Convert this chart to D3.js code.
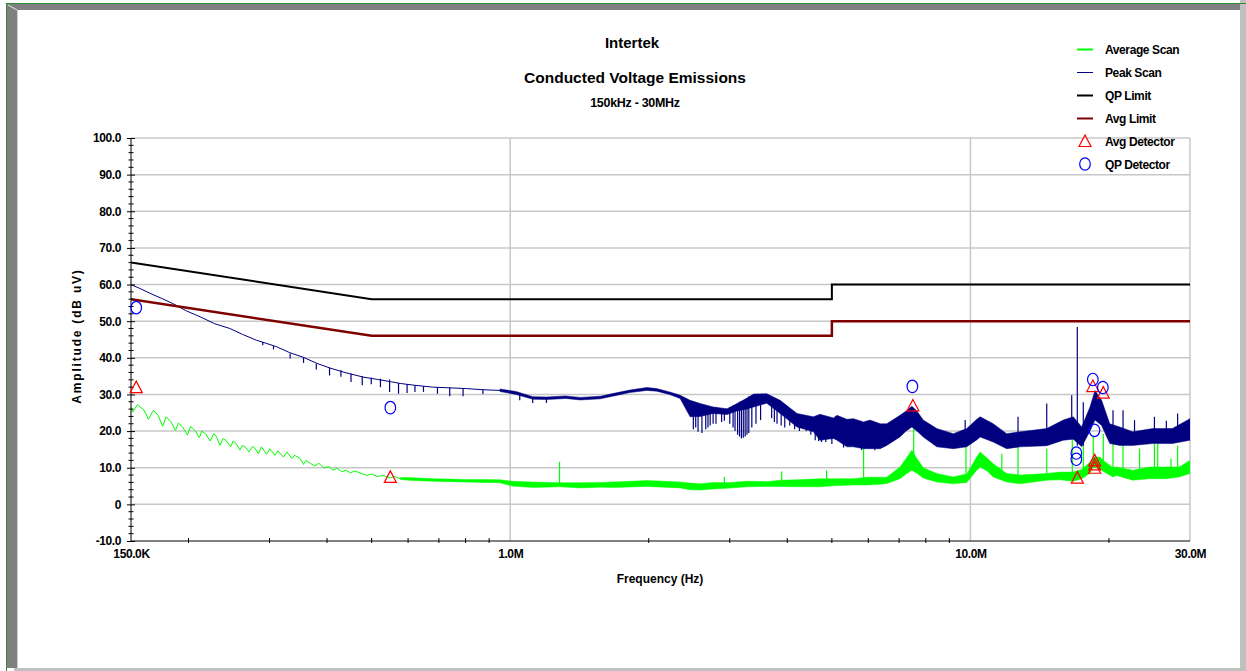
<!DOCTYPE html>
<html>
<head>
<meta charset="utf-8">
<script src="https://d3js.org/d3.v7.min.js"></script>
<style>
  body { margin: 0; background: #fff; }
  svg text { font-family: "Liberation Sans", Arial, sans-serif; font-weight: bold; fill: #000; }
</style>
</head>
<body>
<svg id="chart" width="1246" height="671"></svg>
<script>
// frequency in MHz, level in dBuV
let qpLimit = [[0.15, 66], [0.5, 56], [5, 56], [5, 60], [30, 60]];
let avgLimit = [[0.15, 56], [0.5, 46], [5, 46], [5, 50], [30, 50]];

// peak scan: thin trace below 1 MHz, then a dense noisy band (top / bottom edges)
let peakLine = [[0.150,60.0],[0.157,58.9],[0.165,57.6],[0.175,56.2],[0.185,54.8],[0.198,52.8],[0.212,51.2],[0.228,49.3],
  [0.246,48.0],[0.262,46.4],[0.281,44.8],[0.296,43.9],[0.311,43.0],[0.332,41.4],[0.356,40.1],[0.380,38.5],[0.406,37.2],
  [0.440,35.9],[0.481,34.7],[0.515,34.1],[0.549,33.5],[0.577,33.0],[0.620,32.5],[0.679,32.0],[0.740,31.8],[0.803,31.6],
  [0.870,31.3],[0.950,31.1]];
let peakBandF  = [0.95,1.03,1.12,1.20,1.32,1.42,1.57,1.68,1.82,1.98,2.08,2.22,2.34,2.46,2.59,2.76,2.96,3.11,3.27,3.38,3.61,3.86,
  4.20,4.56,4.71,5.04,5.13,5.39,5.57,5.86,6.05,6.37,6.58,7.03,7.25,7.46,7.65,7.90,8.45,9.18,9.82,10.32,10.50,11.21,11.99,12.82,
  14.65,15.91,16.73,17.45,18.19,18.65,19.28,20.08,21.11,22.54,24.87,27.46,30.0];
let peakBandHi = [31.5,30.8,29.4,29.3,29.6,29.2,29.5,30.3,31.2,31.9,31.6,30.7,29.8,28.4,27.5,26.6,26.1,27.5,29.0,30.1,30.2,28.4,
  24.8,23.9,24.6,23.6,24.3,23.2,23.4,22.5,23.0,22.0,22.0,24.3,25.5,26.8,25.5,23.0,20.7,19.3,20.7,23.2,23.9,22.0,19.3,19.8,
  20.7,23.0,23.9,21.1,26.6,31.1,28.4,22.0,21.1,19.8,20.7,20.7,23.4];
let peakBandLo = [30.8,30.0,28.7,28.6,28.9,28.5,28.8,29.6,30.5,31.1,30.9,30.0,28.9,23.9,24.0,24.8,24.5,25.5,26.0,26.6,27.6,24.8,
  21.1,19.8,17.5,18.0,17.5,15.7,15.7,15.2,15.2,15.2,16.1,18.4,20.0,21.1,20.0,18.4,15.7,15.2,15.7,17.6,18.4,17.0,15.2,15.7,
  16.0,17.5,17.8,15.7,20.0,23.0,21.5,16.6,16.1,16.1,16.6,16.6,17.5];
// notches and spikes on the peak trace: [freq, from, to]
let peakTicks = [[0.290,44.3,43.4],[0.306,43.2,42.3],[0.3325,41.2,39.8],[0.3556,40.1,38.6],[0.379,38.4,36.8],[0.405,37.3,35.2],
  [0.4288,36.6,34.8],[0.451,35.7,33.4],[0.477,35.0,32.5],[0.499,34.6,32.8],[0.5225,34.3,32.0],[0.547,34.1,30.7],[0.572,33.1,30.2],
  [0.597,32.8,30.4],[0.621,32.5,30.7],[0.648,32.2,30.7],[0.695,32.0,30.2],[0.739,31.9,29.5],[0.790,31.7,29.5],[0.8725,31.4,30.1],
  [1.049,30.2,28.4],[1.119,29.3,27.7],[1.199,29.2,27.7],
  [2.50,20.5,27.0],[2.53,21.0,27.0],[2.56,19.8,27.0],[2.61,19.5,27.0],[2.66,20.5,27.0],[2.69,21.0,26.5],[2.72,21.5,26.5],
  [2.76,22.0,26.5],[2.80,22.0,26.5],[2.88,22.5,26.0],[2.92,22.8,26.0],[3.00,22.0,26.5],[3.05,21.0,27.0],[3.08,20.0,27.0],
  [3.12,19.0,27.5],[3.15,18.5,28.0],[3.18,18.0,28.0],[3.21,18.2,28.2],[3.24,18.5,28.5],[3.27,19.0,29.0],[3.30,19.5,29.5],
  [3.35,21.0,29.8],[3.42,22.0,30.0],[3.50,23.0,30.0],[3.70,23.5,29.0],[3.75,22.5,28.8],[3.80,22.0,28.5],[3.88,21.5,28.0],
  [3.95,21.0,27.0],[4.05,21.5,26.0],[4.15,20.5,25.0],[4.25,20.0,24.5],[4.40,20.0,24.0],[4.50,19.0,23.5],[4.60,17.5,23.0],
  [4.68,17.2,23.0],[4.75,17.0,23.0],[4.85,17.0,23.0],[5.00,16.5,23.0],[5.30,15.5,22.0],[5.80,14.8,21.5],[6.20,14.8,21.0],
  [9.74,16.0,23.0],[12.69,16.0,23.9],[14.65,17.0,27.5],[16.60,18.0,29.8],[17.07,16.0,48.4],[17.59,16.0,27.9],[20.41,17.0,25.7],
  [21.46,17.0,25.7],[22.73,17.0,23.0],[25.11,17.0,23.9],[26.65,17.0,22.8],[28.20,17.0,24.8]];

// average scan: scalloped trace at low frequency, then a noisy band
let avgLine = [[0.150,26.6],[0.1513,25.2],[0.1548,27.2],[0.1600,25.8],[0.1636,23.2],[0.1678,25.7],[0.1720,24.2],[0.1757,21.3],
  [0.1788,23.9],[0.1830,22.6],[0.1874,20.2],[0.1902,22.2],[0.1945,21.0],[0.1990,18.9],[0.2020,21.3],[0.2070,20.0],[0.2112,18.2],
  [0.2137,20.0],[0.2180,19.2],[0.2228,17.3],[0.2272,19.3],[0.2300,18.5],[0.2340,16.1],[0.2379,18.0],[0.2420,17.3],[0.2469,15.7],
  [0.2501,17.3],[0.2540,16.6],[0.2585,14.8],[0.2620,16.1],[0.2660,15.6],[0.2708,14.3],[0.2754,15.8],[0.2790,15.3],[0.2836,13.8],
  [0.2880,15.7],[0.2958,13.7],[0.3005,15.2],[0.3081,13.4],[0.3127,14.6],[0.3216,12.9],[0.3271,14.3],[0.3354,12.5],[0.3400,13.4],
  [0.3497,12.5],[0.3556,10.9],[0.3600,12.0],[0.3678,11.2],[0.3760,10.5],[0.3840,11.2],[0.3932,10.0],[0.4040,10.3],[0.4126,9.3],
  [0.4203,9.9],[0.4300,8.9],[0.4400,9.3],[0.4496,8.6],[0.4600,9.1],[0.4808,8.2],[0.4890,7.9],[0.5000,8.3],[0.5140,7.6],
  [0.5300,7.9],[0.5492,7.2],[0.5600,7.6],[0.5771,7.0]];
let avgBandF  = [0.5771,0.60,0.65,0.68,0.74,0.80,0.87,0.95,1.01,1.12,1.28,1.42,1.57,1.68,1.98,2.34,2.46,2.59,2.76,2.96,3.27,3.61,
  3.86,4.20,4.56,4.71,5.04,5.57,5.96,6.37,6.58,7.03,7.25,7.46,7.65,7.90,8.45,9.18,9.82,10.32,10.50,10.9,11.21,11.99,12.82,
  14.65,15.65,16.73,17.45,18.19,18.49,19.12,19.44,20.41,20.76,22.54,24.50,26.62,28.44,30.0];
let avgBandHi = [7.3,7.3,7.1,7.0,6.9,6.8,6.8,6.7,6.3,6.1,5.9,5.9,6.0,6.1,6.5,6.1,5.8,5.6,6.0,5.9,6.3,6.2,
  6.6,6.7,6.9,7.0,7.0,7.0,7.4,7.4,7.4,10.2,12.5,14.8,12.5,10.0,8.4,7.5,8.3,12.9,14.3,12.5,11.1,8.4,8.0,
  8.4,8.8,8.8,9.5,11.5,12.9,12.9,12.0,10.0,10.2,9.3,10.2,10.2,10.2,12.0];
let avgBandLo = [6.8,6.6,6.4,6.3,6.2,6.1,6.0,5.9,5.0,4.6,4.8,4.5,4.7,4.6,4.9,4.5,4.0,3.9,4.2,4.4,4.8,4.9,
  4.9,4.8,4.8,4.8,5.1,5.3,5.3,5.5,5.7,7.0,8.3,9.3,8.5,7.2,6.1,5.6,6.0,9.3,10.2,9.0,7.5,6.1,5.6,
  6.6,6.7,6.3,7.0,8.5,10.2,9.7,9.0,7.5,7.9,6.6,7.0,7.0,7.5,8.4];
let avgTicks = [[1.28,5.2,11.6],[2.92,5.5,7.5],[3.89,6.0,9.0],[4.87,6.5,9.3],[5.86,6.5,15.8],[7.53,13.0,21.6],[9.78,7.0,15.7],
  [11.70,8.0,13.8],[12.69,7.0,15.7],[14.65,7.0,15.2],[16.65,8.0,19.8],[17.60,8.0,20.0],[18.49,10.0,18.4],[19.44,10.0,19.3],
  [20.41,8.0,18.4],[21.46,8.0,18.9],[23.31,8.0,15.2],[25.11,8.0,16.6],[25.53,8.0,16.6],[27.28,8.0,12.5],[28.20,8.0,16.1]];

let avgDetF = [0.154, 0.549, 7.50, 17.07, 18.62, 18.62, 18.62, 18.45, 19.44];
let avgDetV = [32.0, 7.5, 27.0, 7.3, 12.0, 10.9, 10.0, 32.3, 30.5];
let qpDetF = [0.154, 0.549, 7.48, 16.99, 16.99, 18.45, 19.40, 18.60];
let qpDetV = [53.7, 26.4, 32.2, 14.0, 12.3, 34.1, 31.9, 20.2];

let yTicks = [-10, 0, 10, 20, 30, 40, 50, 60, 70, 80, 90, 100];
let xTicks = [0.15, 1, 10, 30];
let xTickLabels = ["150.0K", "1.0M", "10.0M", "30.0M"];
let xMinor = [0.2,0.3,0.4,0.5,0.6,0.7,0.8,0.9,2,3,4,5,6,7,8,9,20];

let legendNames = ["Average Scan", "Peak Scan", "QP Limit", "Avg Limit", "Avg Detector", "QP Detector"];
let legendColors = ["#00ff00", "#000080", "#000000", "#800000", "#ff0000", "#0000ff"];

let svg = d3.select("#chart");

// window frame
svg.append("rect").attr("x", 1240).attr("y", 0).attr("width", 6).attr("height", 671).attr("fill", "#c0c0c0");
svg.append("rect").attr("x", 14).attr("y", 668).attr("width", 1232).attr("height", 3).attr("fill", "#c0c0c0");
svg.append("rect").attr("x", 7).attr("y", 4).attr("width", 10).attr("height", 664).attr("fill", "#808080");
svg.append("rect").attr("x", 7).attr("y", 4).attr("width", 1233).attr("height", 6).attr("fill", "#808080");
svg.append("line").attr("x1", 17.5).attr("x2", 17.5).attr("y1", 10).attr("y2", 668).attr("stroke", "#d0d0d0");
svg.append("line").attr("x1", 8).attr("x2", 17).attr("y1", 5).attr("y2", 10).attr("stroke", "#e8e8e8");
svg.append("line").attr("x1", 6).attr("x2", 1246).attr("y1", 3.5).attr("y2", 3.5).attr("stroke", "#2e8b2e");
svg.append("line").attr("x1", 6.5).attr("x2", 6.5).attr("y1", 3).attr("y2", 671).attr("stroke", "#2e8b2e");

let x = d3.scaleLog().domain([0.15, 30]).range([131, 1190]);
let y = d3.scaleLinear().domain([-10, 100]).range([541, 138]);

// grid
svg.append("g").selectAll("line").data(yTicks.slice(1)).join("line")
  .attr("x1", 131).attr("x2", 1190).attr("y1", d => y(d)).attr("y2", d => y(d))
  .attr("stroke", "#c8c8c8").attr("stroke-width", 1.5);
svg.append("g").selectAll("line").data([1, 10, 30]).join("line")
  .attr("x1", d => x(d)).attr("x2", d => x(d)).attr("y1", 138).attr("y2", 541)
  .attr("stroke", "#c8c8c8").attr("stroke-width", 1.5);

svg.append("clipPath").attr("id", "plotClip").append("rect")
  .attr("x", 131).attr("y", 130).attr("width", 1059).attr("height", 411);
let plot = svg.append("g").attr("clip-path", "url(#plotClip)");

let line = d3.line().x(d => x(d[0])).y(d => y(d[1]));

function drawTrace(lineData, bandF, bandHi, bandLo, ticks, color) {
  let band = bandF.map((f, i) => [f, bandHi[i], bandLo[i]]);
  plot.append("path").datum(band)
    .attr("d", d3.area().x(d => x(d[0])).y0(d => y(d[2])).y1(d => y(d[1])))
    .attr("fill", color).attr("stroke", color).attr("stroke-width", 0.5);
  plot.append("path").datum(lineData).attr("d", line)
    .attr("fill", "none").attr("stroke", color).attr("stroke-width", 1);
  plot.append("g").selectAll("line").data(ticks).join("line")
    .attr("x1", d => x(d[0])).attr("x2", d => x(d[0]))
    .attr("y1", d => y(d[1])).attr("y2", d => y(d[2]))
    .attr("stroke", color).attr("stroke-width", 1.2);
}

drawTrace(avgLine, avgBandF, avgBandHi, avgBandLo, avgTicks, "#00ff00");
drawTrace(peakLine, peakBandF, peakBandHi, peakBandLo, peakTicks, "#000080");

plot.append("path").datum(qpLimit).attr("d", line)
  .attr("fill", "none").attr("stroke", "#000").attr("stroke-width", 2);
plot.append("path").datum(avgLimit).attr("d", line)
  .attr("fill", "none").attr("stroke", "#800000").attr("stroke-width", 2.5);

// axes
let yAxis = svg.append("g").attr("transform", "translate(131,0)")
  .call(d3.axisLeft(y).tickValues(yTicks).tickSize(4).tickPadding(6)
    .tickFormat(d => d === 0 ? "0" : d.toFixed(1)));
yAxis.select(".domain").attr("d", "M0,138V541").attr("stroke", "#000");
yAxis.selectAll(".tick line").attr("x1", 4).attr("x2", -4);
yAxis.selectAll(".tick text").attr("font-size", 12).attr("letter-spacing", -0.4)
  .attr("font-family", "Liberation Sans, Arial, sans-serif");

let yMinor = d3.range(-10, 101, 2).filter(d => d % 10 !== 0);
svg.append("g").selectAll("line").data(yMinor).join("line")
  .attr("x1", 128.5).attr("x2", 133.5).attr("y1", d => y(d)).attr("y2", d => y(d))
  .attr("stroke", "#000");

let xAxis = svg.append("g").attr("transform", "translate(0,541)")
  .call(d3.axisBottom(x).tickValues(xTicks).tickSize(0).tickPadding(8)
    .tickFormat((d, i) => xTickLabels[i]));
xAxis.select(".domain").attr("d", "M131,0H1190").attr("stroke", "#000");
xAxis.selectAll(".tick text").attr("font-size", 12).attr("letter-spacing", -0.4)
  .attr("font-family", "Liberation Sans, Arial, sans-serif");
svg.append("g").selectAll("line").data(xMinor).join("line")
  .attr("x1", d => x(d)).attr("x2", d => x(d)).attr("y1", 538).attr("y2", 543)
  .attr("stroke", "#000");

// detectors
function triangle(cx, cy) {
  return `M${cx},${cy - 6}L${cx + 6},${cy + 5.5}L${cx - 6},${cy + 5.5}Z`;
}
svg.append("g").selectAll("path").data(avgDetF).join("path")
  .attr("d", (d, i) => triangle(x(d), y(avgDetV[i])))
  .attr("fill", "none").attr("stroke", "#ff0000").attr("stroke-width", 1.2);
svg.append("g").selectAll("ellipse").data(qpDetF).join("ellipse")
  .attr("cx", d => x(d)).attr("cy", (d, i) => y(qpDetV[i])).attr("rx", 5.3).attr("ry", 6.2)
  .attr("fill", "none").attr("stroke", "#0000ff").attr("stroke-width", 1.2);

// titles
svg.append("text").attr("x", 632).attr("y", 48).attr("text-anchor", "middle").attr("font-size", 15).text("Intertek");
svg.append("text").attr("x", 635).attr("y", 83).attr("text-anchor", "middle").attr("font-size", 15.5).text("Conducted Voltage Emissions");
svg.append("text").attr("x", 635).attr("y", 107).attr("text-anchor", "middle").attr("font-size", 12.5).attr("letter-spacing", -0.3).text("150kHz - 30MHz");
svg.append("text").attr("x", 660).attr("y", 583).attr("text-anchor", "middle").attr("font-size", 12).text("Frequency (Hz)");
svg.append("text").attr("transform", "translate(81,336) rotate(-90)").attr("text-anchor", "middle")
  .attr("font-size", 12).attr("letter-spacing", 1.8).text("Amplitude (dB uV)");

// legend
let legend = svg.append("g").selectAll("g").data(legendNames).join("g")
  .attr("transform", (d, i) => `translate(1085,${54 + i * 23})`);
legend.append("text").attr("x", 20).attr("y", 0).attr("font-size", 12).attr("letter-spacing", -0.4).text(d => d);
legend.filter((d, i) => i < 4).append("line")
  .attr("x1", -8).attr("x2", 8).attr("y1", -4.5).attr("y2", -4.5)
  .attr("stroke", (d, i) => legendColors[i]).attr("stroke-width", (d, i) => i === 1 ? 1 : 2);
legend.filter((d, i) => i === 4).append("path").attr("d", triangle(0, -5))
  .attr("fill", "none").attr("stroke", "#ff0000").attr("stroke-width", 1.2);
legend.filter((d, i) => i === 5).append("ellipse").attr("cx", 0).attr("cy", -5).attr("rx", 5.3).attr("ry", 6.2)
  .attr("fill", "none").attr("stroke", "#0000ff").attr("stroke-width", 1.2);
</script>
</body>
</html>
